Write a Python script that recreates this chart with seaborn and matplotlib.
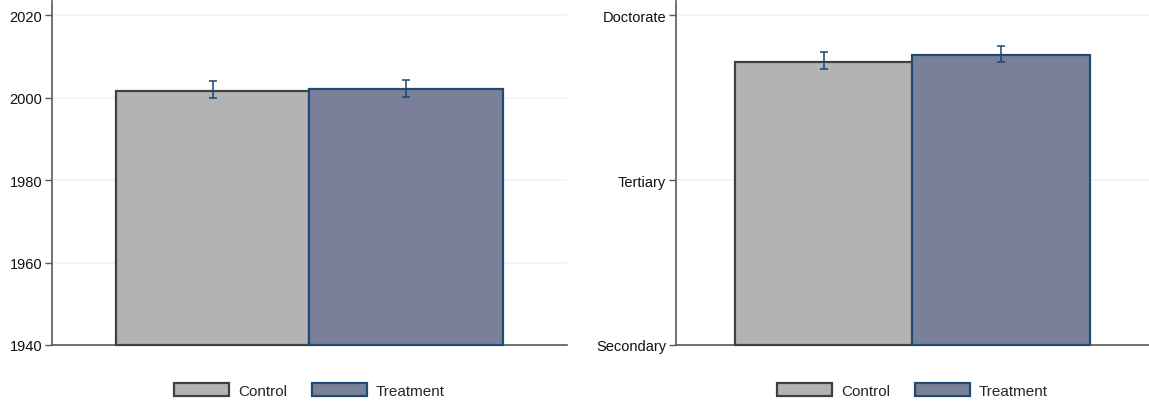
import numpy as np
import matplotlib.pyplot as plt
import seaborn as sns

sns.set_theme(style="white")
plt.rcParams['font.family'] = ['Liberation Sans', 'DejaVu Sans']

groups = ["Control", "Treatment"]

# left panel: birth year
year_mean = [2001.6, 2002.1]
year_lo = [1999.9, 2000.1]
year_hi = [2003.9, 2004.2]
year_ticks = [1940, 1960, 1980, 2000, 2020]

# right panel: education level (0 = Secondary, 1 = Tertiary, 2 = Doctorate)
edu_mean = [1.715, 1.758]
edu_lo = [1.673, 1.715]
edu_hi = [1.776, 1.812]
edu_ticks = [0, 1, 2]
edu_labels = ["Secondary", "Tertiary", "Doctorate"]

fills = ["#b3b3b3", "#7a8099"]
edges = ["#404040", "#1f4b74"]
err_col = "#1a476f"
grid_col = "#eef4f4"
spine_col = "#5a5a5a"

fig = plt.figure(figsize=(11.49, 4.02), dpi=100)
W, H = 1149, 402
ax1 = fig.add_axes([52 / W, 56 / H, (567 - 52) / W, 344 / H])
ax2 = fig.add_axes([676 / W, 56 / H, (1149 - 676) / W, 344 / H])


def panel(ax, means, lo, hi, base, top, ticks, labels=None):
    sns.barplot(x=groups, y=means, hue=groups, palette=fills, width=1.0,
                errorbar=None, legend=False, ax=ax, saturation=1)
    for p, m, ec in zip(ax.patches, means, edges):
        p.set_y(base)
        p.set_height(m - base)
        p.set_edgecolor(ec)
        p.set_linewidth(1.6)
        p.set_clip_on(False)
        p.set_zorder(3)
    xs = [p.get_x() + p.get_width() / 2 for p in ax.patches]
    m = np.array(means)
    yerr = [m - np.array(lo), np.array(hi) - m]
    ax.errorbar(xs, m, yerr=yerr, fmt="none", ecolor=err_col, elinewidth=1.1,
                capsize=3.2, capthick=1.1, zorder=4)
    ax.set_ylim(base, top)
    ax.set_xlim(-0.83, 1.83)
    ax.set_yticks(ticks)
    if labels is not None:
        ax.set_yticklabels(labels)
    ax.yaxis.grid(True, color=grid_col, linewidth=1.2, zorder=0)
    ax.set_axisbelow(True)
    ax.set_xticks([])
    ax.set_xlabel("")
    ax.set_ylabel("")
    for s in ["top", "right"]:
        ax.spines[s].set_visible(False)
    for s in ["left", "bottom"]:
        ax.spines[s].set_color(spine_col)
        ax.spines[s].set_linewidth(1.2)
    ax.tick_params(axis="y", which="both", left=True, length=5, width=1.0,
                   color=spine_col, labelsize=10.5, labelcolor="#111111", pad=2)
    handles = [plt.Rectangle((0, 0), 1, 1, facecolor=f, edgecolor=e, linewidth=1.6)
               for f, e in zip(fills, edges)]
    ax.legend(handles, groups, loc="upper center", bbox_to_anchor=(0.5, -0.07),
              ncol=2, frameon=False, fontsize=11, handlelength=3.6,
              handleheight=0.95, columnspacing=1.6, handletextpad=0.6)


panel(ax1, year_mean, year_lo, year_hi, 1940, 2023.4, year_ticks)
panel(ax2, edu_mean, edu_lo, edu_hi, 0, 2.085, edu_ticks, edu_labels)

fig.savefig("out.png", dpi=100)
